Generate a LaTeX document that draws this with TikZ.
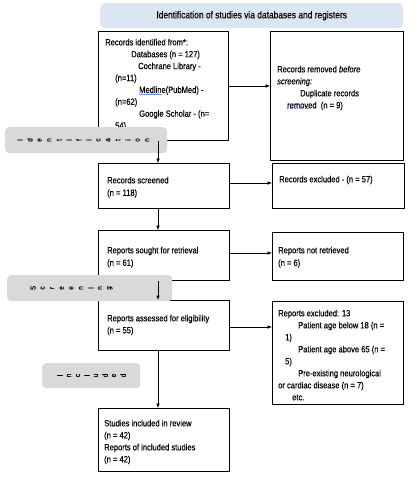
\documentclass[tikz,border=0pt]{standalone}
\usepackage{fontspec}
\setmainfont{Liberation Sans}[FakeStretch=0.84, FakeBold=0.25]
\usetikzlibrary{arrows.meta,decorations.pathmorphing}
\definecolor{hdrblue}{HTML}{DCE6F2}
\definecolor{sidegray}{HTML}{D9D9D9}
\definecolor{spellblue}{HTML}{4A6FD8}
\begin{document}
\begin{tikzpicture}[x=1pt,y=-1pt,
  font=\fontsize{9}{11.9}\selectfont,
  box/.style={draw=black, line width=0.75pt, fill=white, inner sep=0pt, anchor=north west},
  hdr/.style={fill=hdrblue, rounded corners=5pt, draw=none, inner sep=0pt, anchor=north west},
  txt/.style={anchor=north west, inner sep=0pt, align=left},
  side/.style={fill=sidegray, rounded corners=4pt, draw=none, inner sep=0pt, anchor=north west},
  sidechar/.style={rotate=90, inner sep=0pt, font=\fontsize{7.5}{8}\selectfont},
  arr/.style={-{Latex[length=4.5pt,width=3.6pt]}, line width=0.6pt}]
\useasboundingbox (0,0) rectangle (417,480);
\fill[white] (0,0) rectangle (417,480);

% header
\node[hdr, minimum width=303pt, minimum height=25pt] (hdr) at (100,3) {};
\node[inner sep=0pt, font=\fontsize{10}{11}\selectfont] (hdrt) at (hdr.center) {Identification of studies via databases and registers};

% boxes
\node[box, minimum width=130pt, minimum height=109pt] (b1) at (98,31) {};
\node[box, minimum width=133pt, minimum height=129pt] (b2) at (270,31) {};
\node[box, minimum width=131pt, minimum height=45pt] (b3) at (98,163) {};
\node[box, minimum width=132pt, minimum height=45pt] (b4) at (272,163) {};
\node[box, minimum width=131pt, minimum height=50pt] (b5) at (98,230) {};
\node[box, minimum width=131pt, minimum height=48pt] (b6) at (272,232) {};
\node[box, minimum width=131pt, minimum height=50pt] (b7) at (98,300) {};
\node[box, minimum width=131pt, minimum height=103pt] (b8) at (272,301) {};
\node[box, minimum width=131pt, minimum height=63pt] (b9) at (98,408) {};

% texts
\node[txt] (t1) at (105,38.6) {Records identified from*:\\
\hspace*{26pt}Databases (n = 127)\\
\hspace*{33pt}Cochrane Library -\\
\hspace*{10pt}(n=11)\\
\hspace*{34pt}Medline(PubMed) -\\
\hspace*{10pt}(n=62)\\
\hspace*{34pt}Google Scholar - (n=\\
\hspace*{10pt}54)};
\draw[spellblue, line width=0.4pt, decorate, decoration={snake, amplitude=0.5pt, segment length=2pt}] (139,94.4) -- (162,94.4);

\node[txt, font=\fontsize{9}{12}\selectfont] (t2) at (277,65.6) {Records removed \textit{before}\\
\textit{screening:}\\
\hspace*{23pt}Duplicate records\\
\hspace*{10pt}removed\ \ (n = 9)};
\draw[spellblue, line width=0.5pt, dotted] (287,108) -- (311,108);

\node[txt, font=\fontsize{9}{12.5}\selectfont] (t3) at (107,176.6) {Records screened\\(n = 118)};
\node[txt] (t4) at (279,175.6) {Records excluded - (n = 57)};
\node[txt, font=\fontsize{9}{12.5}\selectfont] (t5) at (107,246.6) {Reports sought for retrieval\\(n = 61)};
\node[txt, font=\fontsize{9}{12.5}\selectfont] (t6) at (278,246.6) {Reports not retrieved\\(n = 6)};
\node[txt, font=\fontsize{9}{12}\selectfont] (t7) at (107,314.6) {Reports assessed for eligibility\\(n = 55)};
\node[txt, font=\fontsize{9}{12}\selectfont] (t8) at (278,309.6) {Reports excluded: 13\\
\hspace*{20pt}Patient age below 18 (n =\\
\hspace*{7pt}1)\\
\hspace*{20pt}Patient age above 65 (n =\\
\hspace*{7pt}5)\\
\hspace*{20pt}Pre-existing neurological\\
or cardiac disease (n = 7)\\
\hspace*{14pt}etc.};
\node[txt, font=\fontsize{9}{12}\selectfont] (t9) at (104,419.6) {Studies included in review\\(n = 42)\\Reports of included studies\\(n = 42)};

% side labels
\node[side, minimum width=162pt, minimum height=26pt] (g1) at (5,127) {};
\node[side, minimum width=165pt, minimum height=26pt] (g2) at (7,275) {};
\node[side, minimum width=98pt, minimum height=25pt] (g3) at (42,363) {};
\foreach \c [count=\i] in {I,d,e,n,t,i,f,i,c,a,t,i,o,n}
  \node[sidechar] (g1c\i) at (20+\i*9.8-9.8,140) {\c};
\foreach \c [count=\i] in {S,c,r,e,e,n,i,n,g}
  \node[sidechar] (g2c\i) at (33+\i*9.6-9.6,288) {\c};
\foreach \c [count=\i] in {I,n,c,l,u,d,e,d}
  \node[sidechar] (g3c\i) at (60+\i*9-9,375.5) {\c};

% connectors
\draw[arr] ([xshift=60pt]b1.south west) -- ([xshift=60pt]b3.north west);
\draw[arr] ([xshift=60pt]b3.south west) -- ([xshift=60pt]b5.north west);
\draw[arr] ([xshift=60pt]b5.south west) -- ([xshift=60pt]b7.north west);
\draw[arr] ([xshift=60pt]b7.south west) -- ([xshift=60pt]b9.north west);
\coordinate (a1) at ([yshift=-55pt]b1.north east);
\draw[arr] (a1) -- (a1 -| b2.west);
\coordinate (a2) at ([yshift=-20pt]b3.north east);
\draw[arr] (a2) -- (a2 -| b4.west);
\coordinate (a3) at ([yshift=-23pt]b5.north east);
\draw[arr] (a3) -- (a3 -| b6.west);
\coordinate (a4) at ([yshift=-27pt]b7.north east);
\draw[arr] (a4) -- (a4 -| b8.west);
\end{tikzpicture}
\end{document}
